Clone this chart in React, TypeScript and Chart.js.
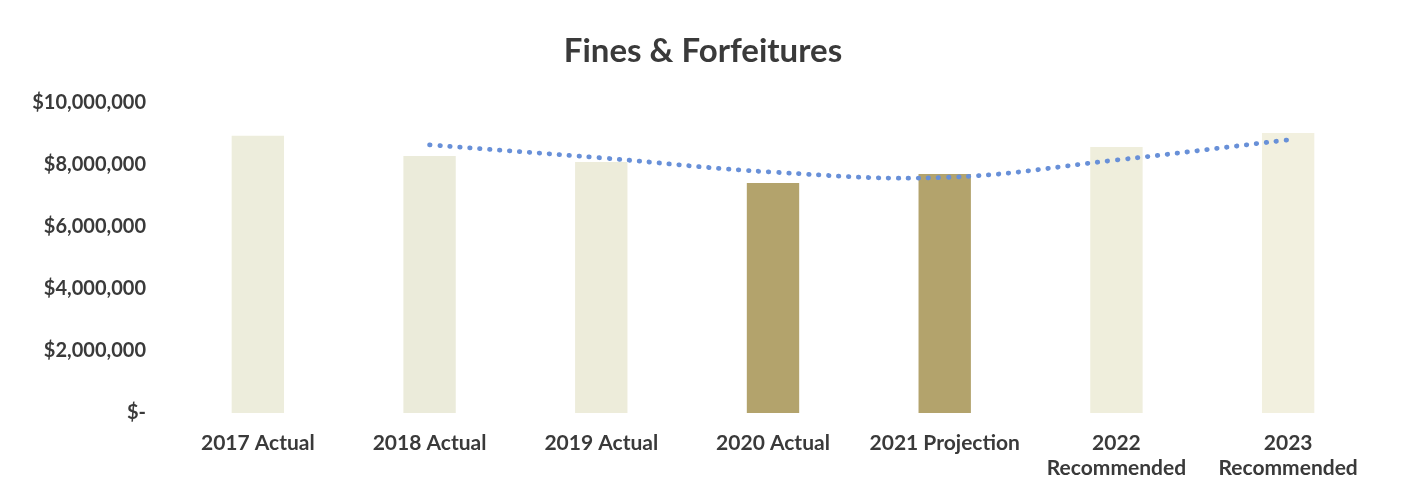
import React, { useEffect, useRef } from "react";
import { Chart, registerables } from "chart.js";

Chart.register(...registerables);

const categories: (string | string[])[] = [
  "2017 Actual",
  "2018 Actual",
  "2019 Actual",
  "2020 Actual",
  "2021 Projection",
  ["2022", "Recommended"],
  ["2023", "Recommended"],
];
const revenue = [8940000, 8290000, 8100000, 7420000, 7710000, 8580000, 9030000];
const trend = [null, 8650000, 8230000, 7770000, 7600000, 8160000, 8810000];
const barColors = ["#EDEDDC", "#EBEBDA", "#EDECDA", "#B3A36C", "#B3A36C", "#EFEEDC", "#F2F0DF"];
const yTicks = [0, 2000000, 4000000, 6000000, 8000000, 10000000];

const fmt = (v: number) => (v === 0 ? "$-" : "$" + v.toLocaleString("en-US"));

export default function App() {
  const ref = useRef<HTMLCanvasElement | null>(null);
  useEffect(() => {
    if (!ref.current) return;
    const font = "Lato, 'Open Sans', sans-serif";
    const chart = new Chart(ref.current, {
      type: "bar",
      data: {
        labels: categories,
        datasets: [
          {
            type: "line",
            data: trend,
            borderColor: "#6890D8",
            borderWidth: 4.8,
            borderDash: [0.5, 9.5],
            borderCapStyle: "round",
            pointRadius: 0,
            tension: 0.4,
            fill: false,
            order: 0,
          } as any,
          {
            type: "bar",
            data: revenue,
            backgroundColor: barColors,
            barPercentage: 0.305,
            categoryPercentage: 1,
            order: 1,
          },
        ],
      },
      options: {
        animation: false,
        responsive: true,
        maintainAspectRatio: false,
        layout: { padding: { left: 0, right: 0, top: 0, bottom: 0 } },
        plugins: {
          legend: { display: false },
          tooltip: { enabled: false },
          title: {
            display: true,
            text: "Fines & Forfeitures",
            color: "#3A3A3A",
            font: { family: font, size: 33, weight: "bold", lineHeight: 1.2 },
            padding: { top: 31.2, bottom: 32.2 },
          },
        },
        scales: {
          x: {
            grid: { display: false, drawTicks: false },
            border: { display: false },
            ticks: {
              color: "#3A3A3A",
              font: { family: font, size: 21, weight: "bold", lineHeight: 1.2 },
              padding: 17.4,
              maxRotation: 0,
              autoSkip: false,
            },
            afterFit: (s: any) => {
              s.height = 86;
            },
          },
          y: {
            min: 0,
            max: 10000000,
            grid: { display: false, drawTicks: false },
            border: { display: false },
            afterBuildTicks: (s: any) => {
              s.ticks = yTicks.map((v) => ({ value: v }));
            },
            ticks: {
              color: "#3A3A3A",
              font: { family: font, size: 20, weight: "bold" },
              padding: 26,
              callback: (v: any) => fmt(Number(v)),
            },
            afterFit: (s: any) => {
              s.width = 172;
            },
          },
          yRight: {
            position: "right",
            min: 0,
            max: 10000000,
            grid: { display: false, drawTicks: false },
            border: { display: false },
            ticks: { display: false },
            afterFit: (s: any) => {
              s.width = 32;
            },
          },
        },
      },
    });
    return () => chart.destroy();
  }, []);
  return (
    <div style={{ position: "fixed", left: 0, top: 0, width: 1406, height: 499, background: "#fff" }}>
      <canvas ref={ref} />
    </div>
  );
}
